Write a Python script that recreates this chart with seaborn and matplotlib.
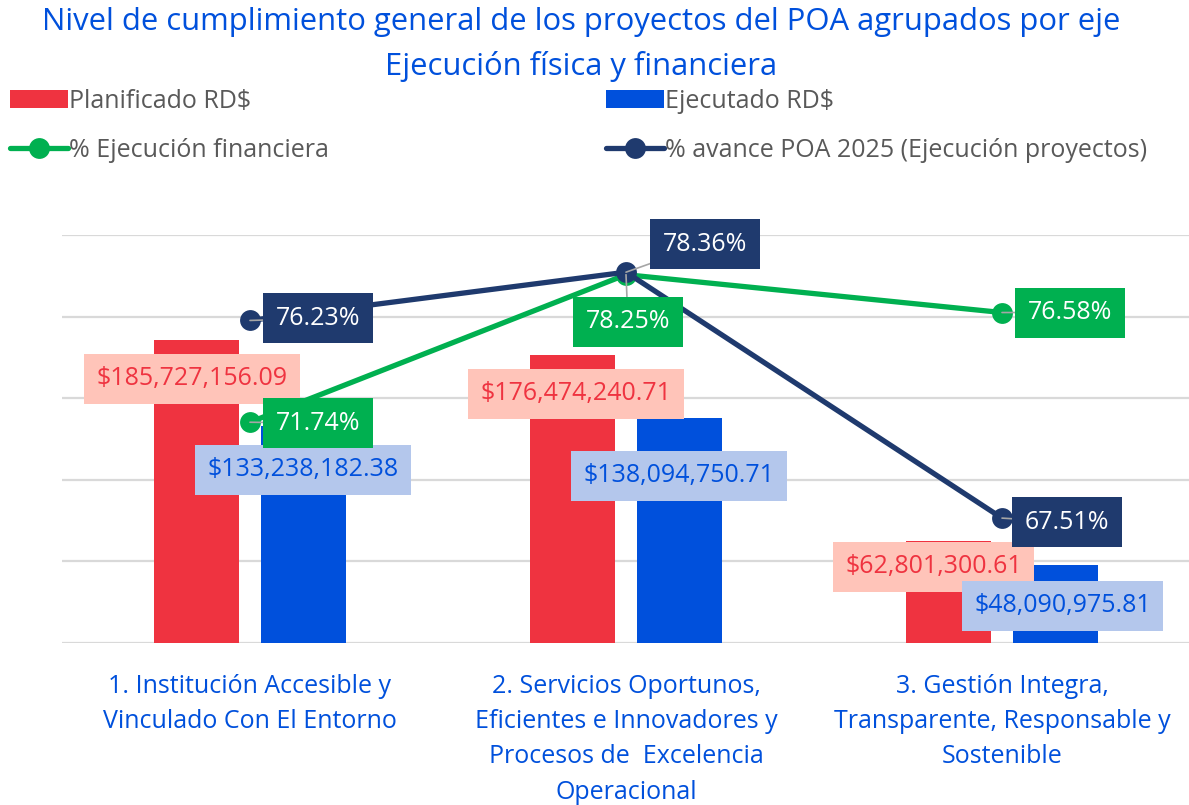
import matplotlib
matplotlib.use("Agg")
import matplotlib.pyplot as plt
import seaborn as sns
import pandas as pd
from matplotlib.patches import Patch
from matplotlib.lines import Line2D

# ---------------- data ----------------
categorias = [
    "1. Institución Accesible y\nVinculado Con El Entorno",
    "2. Servicios Oportunos,\nEficientes e Innovadores y\nProcesos de  Excelencia\nOperacional",
    "3. Gestión Integra,\nTransparente, Responsable y\nSostenible",
]
planificado = [185727156.09, 176474240.71, 62801300.61]
ejecutado = [133238182.38, 138094750.71, 48090975.81]
pct_ejec_financiera = [0.7174, 0.7825, 0.7658]
pct_avance_poa = [0.7623, 0.7836, 0.6751]
series_barras = ["Planificado RD$", "Ejecutado RD$"]
series_lineas = ["% Ejecución financiera", "% avance POA 2025 (Ejecución proyectos)"]
titulo_1 = "Nivel de cumplimiento general de los proyectos del POA agrupados por eje"
titulo_2 = "Ejecución física y financiera"

# ---------------- style ----------------
ROJO = "#EF3340"
AZUL = "#0050DC"
NAVY = "#1F3A6E"
VERDE = "#00B050"
ROSA_BG = "#FFC4B9"
AZUL_BG = "#B4C7EC"
GRIS_TXT = "#595959"
GRID = "#D9D9D9"
FONT = ["Open Sans", "DejaVu Sans"]

sns.set_style("white")
plt.rcParams["font.family"] = FONT

fig = plt.figure(figsize=(11.89, 8.05), dpi=100)
ax = fig.add_axes([62 / 1189, 162 / 805, 1128 / 1189, 408 / 805])

df = pd.DataFrame({
    "eje": categorias * 2,
    "serie": [series_barras[0]] * 3 + [series_barras[1]] * 3,
    "valor": planificado + ejecutado,
})

sns.barplot(data=df, x="eje", y="valor", hue="serie", order=categorias,
            hue_order=series_barras, palette=[ROJO, AZUL], width=0.568, gap=0.2,
            saturation=1, linewidth=0, ax=ax, legend=False, errorbar=None)

ax.set_ylim(0, 250e6)
ax.set_yticks([0, 50e6, 100e6, 150e6, 200e6, 250e6])
ax.set_yticklabels([])
ax.grid(axis="y", color=GRID, linewidth=1.6)
ax.set_axisbelow(True)
ax.tick_params(axis="y", length=0)
ax.tick_params(axis="x", length=0, pad=22, labelsize=18, labelcolor=AZUL)
for lbl in ax.get_xticklabels():
    lbl.set_linespacing(1.55)
    lbl.set_verticalalignment("top")
ax.set_xlabel("")
ax.set_ylabel("")
for s in ax.spines.values():
    s.set_visible(False)

ax2 = ax.twinx()
xs = list(range(len(categorias)))
sns.lineplot(x=xs, y=pct_ejec_financiera, color=VERDE, linewidth=3.8, marker="o",
             markersize=15, markeredgewidth=0, ax=ax2, zorder=3)
sns.lineplot(x=xs, y=pct_avance_poa, color=NAVY, linewidth=3.8, marker="o",
             markersize=15, markeredgewidth=0, ax=ax2, zorder=4)
ax2.set_ylim(0.62, 0.80)
ax2.set_yticks([])
ax2.set_ylabel("")
for s in ax2.spines.values():
    s.set_visible(False)
ax.set_xlim(-0.5, 2.5)
ax2.set_xlim(-0.5, 2.5)

# ---------------- data labels ----------------
def fmt_money(v):
    return "${:,.2f}".format(v)

bar_offsets = [[(-5, -39), (3, -39), (-15, -26)],
               [(0, -44), (0, -58), (7, -41)]]
for ci, cont in enumerate(ax.containers):
    txt_col = ROJO if ci == 0 else AZUL
    bg = ROSA_BG if ci == 0 else AZUL_BG
    for bi, bar in enumerate(cont):
        xc = bar.get_x() + bar.get_width() / 2
        h = bar.get_height()
        dx, dy = bar_offsets[ci][bi]
        ax2.annotate(fmt_money(h), xy=(xc, h), xycoords=ax.transData,
                     xytext=(dx, dy), textcoords="offset pixels",
                     ha="center", va="center", fontsize=18, color=txt_col,
                     bbox=dict(boxstyle="square,pad=0.5", fc=bg, ec="none"),
                     zorder=10)

line_offsets = {
    0: [(68, -1), (2, -47), (68, 0)],
    1: [(68, 2), (79, 28), (65, -4)],
}
for li, (vals, col) in enumerate([(pct_ejec_financiera, VERDE), (pct_avance_poa, NAVY)]):
    for i, v in enumerate(vals):
        dx, dy = line_offsets[li][i]
        ax2.annotate("{:.2f}%".format(v * 100), xy=(i, v), xycoords="data",
                     xytext=(dx, dy), textcoords="offset pixels",
                     ha="center", va="center", fontsize=18, color="white",
                     bbox=dict(boxstyle="square,pad=0.5", fc=col, ec="none"),
                     arrowprops=dict(arrowstyle="-", color="#A6A6A6", lw=1.2,
                                     shrinkA=0, shrinkB=0),
                     zorder=11)

# ---------------- title ----------------
fig.text(581 / 1189, 1 - 22 / 805, titulo_1, ha="center", va="center",
         fontsize=22.3, color=AZUL)
fig.text(581 / 1189, 1 - 67 / 805, titulo_2, ha="center", va="center",
         fontsize=22.3, color=AZUL)

# ---------------- legend ----------------
handles = [
    Patch(facecolor=ROJO, edgecolor="none"),
    Line2D([0], [0], color=VERDE, lw=3.8, marker="o", markersize=15, markeredgewidth=0),
    Patch(facecolor=AZUL, edgecolor="none"),
    Line2D([0], [0], color=NAVY, lw=3.8, marker="o", markersize=15, markeredgewidth=0),
]
labels = [series_barras[0], series_lineas[0], series_barras[1], series_lineas[1]]
fig.legend(handles, labels, loc="upper left", bbox_to_anchor=(0.0, 0.902),
           ncol=2, frameon=False, fontsize=18, labelcolor=GRIS_TXT,
           handlelength=2.3, handleheight=0.75, handletextpad=0.05,
           columnspacing=11.1, labelspacing=0.98, borderaxespad=0)

fig.savefig("out.png", dpi=100)
